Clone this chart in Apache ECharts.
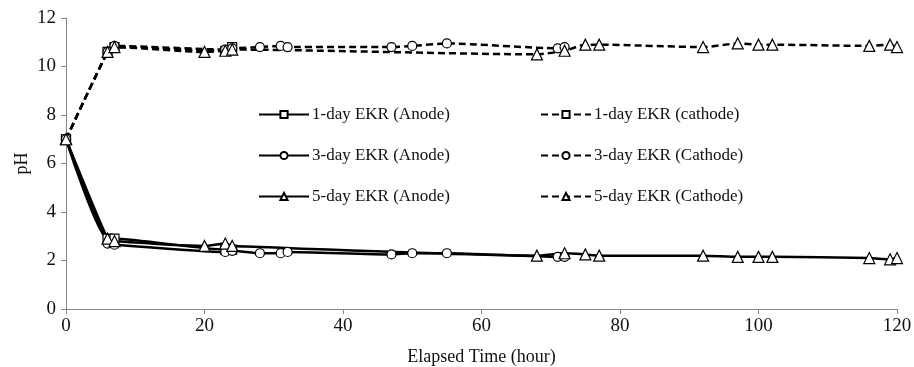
<!DOCTYPE html>
<html>
<head>
<meta charset="utf-8">
<script src="https://cdn.jsdelivr.net/npm/echarts@6/dist/echarts.min.js"></script>
<style>
  html, body { margin: 0; padding: 0; background: #fff; }
  #chart { width: 914px; height: 367px; }
</style>
</head>
<body>
<div id="chart"></div>
<script>
// [hour, pH] readings per run
const anode1 = [[0, 7.0], [6, 2.9], [7, 2.9], [23, 2.45], [24, 2.45]];
const anode3 = [[0, 7.0], [6, 2.7], [7, 2.65], [23, 2.35], [24, 2.4], [28, 2.3], [31, 2.3],
  [32, 2.35], [47, 2.25], [50, 2.3], [55, 2.3], [71, 2.15], [72, 2.15]];
const anode5 = [[0, 7.0], [6, 2.9], [7, 2.8], [20, 2.6], [23, 2.7], [24, 2.6], [68, 2.2],
  [72, 2.3], [75, 2.25], [77, 2.2], [92, 2.2], [97, 2.15], [100, 2.15], [102, 2.15],
  [116, 2.1], [119, 2.05], [120, 2.1]];
const cathode1 = [[0, 7.0], [6, 10.6], [7, 10.8], [23, 10.65], [24, 10.8]];
const cathode3 = [[0, 7.0], [6, 10.6], [7, 10.85], [23, 10.7], [24, 10.75], [28, 10.8],
  [31, 10.85], [32, 10.8], [47, 10.8], [50, 10.85], [55, 10.95], [71, 10.75], [72, 10.8]];
const cathode5 = [[0, 7.0], [6, 10.6], [7, 10.8], [20, 10.6], [23, 10.65], [24, 10.7],
  [68, 10.5], [72, 10.65], [75, 10.9], [77, 10.9], [92, 10.8], [97, 10.95], [100, 10.9],
  [102, 10.9], [116, 10.85], [119, 10.9], [120, 10.8]];

const names = {
  a1: '1-day EKR (Anode)', c1: '1-day EKR (cathode)',
  a3: '3-day EKR (Anode)', c3: '3-day EKR (Cathode)',
  a5: '5-day EKR (Anode)', c5: '5-day EKR (Cathode)',
};

const font = 'Liberation Serif';

const makeSeries = (name, data, symbol, size, dashed) => ({
  name,
  type: 'line',
  data,
  smooth: 0.2,
  symbol,
  symbolSize: size,
  lineStyle: { color: '#000', width: 2.5, type: dashed ? [7, 4] : 'solid' },
  itemStyle: { color: '#fff', borderColor: '#000', borderWidth: 1.2 },
  emphasis: { disabled: true },
});

const legendBase = {
  orient: 'vertical',
  top: 101,
  itemGap: 24,
  itemWidth: 50,
  itemHeight: 9,
  textStyle: { fontFamily: font, fontSize: 17, color: '#111', padding: [0, 0, 0, -2] },
};

const chart = echarts.init(document.getElementById('chart'));
chart.setOption({
  animation: false,
  grid: { left: 66, right: 17, top: 18, bottom: 58, outerBoundsMode: 'none' },
  legend: [
    { ...legendBase, left: 253, data: [names.a1, names.a3, names.a5] },
    { ...legendBase, left: 535, data: [names.c1, names.c3, names.c5] },
  ],
  xAxis: {
    type: 'value',
    min: 0,
    max: 120,
    interval: 20,
    name: 'Elapsed Time (hour)',
    nameLocation: 'middle',
    nameGap: 39,
    nameTextStyle: { fontFamily: font, fontSize: 18, color: '#111' },
    axisLine: { lineStyle: { color: '#888', width: 1 } },
    axisTick: { inside: false, length: 5, lineStyle: { color: '#888' } },
    axisLabel: { fontFamily: font, fontSize: 19, color: '#111', margin: 8 },
    splitLine: { show: false },
  },
  yAxis: {
    type: 'value',
    min: 0,
    max: 12,
    interval: 2,
    name: 'pH',
    nameLocation: 'middle',
    nameGap: 35,
    nameMoveOverlap: false,
    nameTextStyle: { fontFamily: font, fontSize: 18, color: '#111' },
    axisLine: { show: true, lineStyle: { color: '#888', width: 1 } },
    axisTick: { show: true, inside: false, length: 5, lineStyle: { color: '#888' } },
    axisLabel: { fontFamily: font, fontSize: 19, color: '#111', margin: 10 },
    splitLine: { show: false },
  },
  series: [
    makeSeries(names.a1, anode1, 'rect', 9, false),
    makeSeries(names.a3, anode3, 'circle', 9, false),
    makeSeries(names.a5, anode5, 'triangle', 11, false),
    makeSeries(names.c1, cathode1, 'rect', 9, true),
    makeSeries(names.c3, cathode3, 'circle', 9, true),
    makeSeries(names.c5, cathode5, 'triangle', 11, true),
  ],
});
</script>
</body>
</html>
